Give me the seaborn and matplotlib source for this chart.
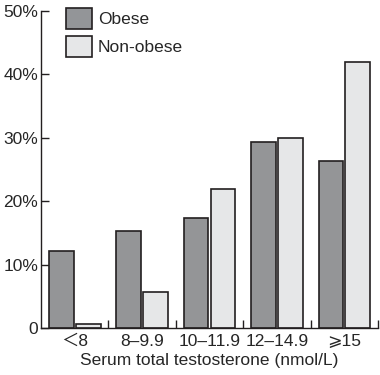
import matplotlib
matplotlib.use("Agg")
import matplotlib.pyplot as plt
import seaborn as sns
import pandas as pd
import numpy as np
from matplotlib.patches import Patch

categories = ["＜8", "8–9.9", "10–11.9", "12–14.9", "⩾15"]
obese = [12.1, 15.3, 17.3, 29.3, 26.3]
non_obese = [0.6, 5.7, 21.9, 29.9, 42.0]
groups = ["Obese", "Non-obese"]
yticks = [0, 10, 20, 30, 40, 50]
ytick_labels = ["0", "10%", "20%", "30%", "40%", "50%"]

sns.set_style("ticks")
plt.rcParams['font.family'] = ['Liberation Sans', 'DejaVu Sans', 'Noto Sans CJK SC']

df = pd.DataFrame({
    "cat": categories * 2,
    "val": obese + non_obese,
    "grp": [groups[0]] * 5 + [groups[1]] * 5,
})

colors = {"Obese": "#939598", "Non-obese": "#e6e7e8"}
edge = "#231f20"
fs = 12.5

fig = plt.figure(figsize=(3.8, 3.75), dpi=100)
ax = fig.add_axes([0.108, 0.125, 0.887, 0.846])
sns.barplot(data=df, x="cat", y="val", hue="grp", palette=colors, order=categories,
            hue_order=groups, width=0.8, gap=0.08, edgecolor=edge, linewidth=1.2,
            ax=ax, legend=False)

ax.set_xlim(-0.5, 4.5)
ax.set_ylim(0, 50)
ax.set_yticks(yticks)
ax.set_yticklabels(ytick_labels, fontsize=fs)
ax.set_xticks(np.arange(0.5, 5.0, 1.0))
ax.set_xticklabels([])
ax.set_xticks(np.arange(5), minor=True)
ax.set_xticklabels(categories, minor=True, fontsize=fs)
ax.tick_params(axis="x", which="major", direction="in", length=6, width=1, color=edge)
ax.tick_params(axis="x", which="minor", length=0, pad=4)
ax.tick_params(axis="y", direction="in", length=6, width=1, color=edge, pad=2)
for s in ["top", "right"]:
    ax.spines[s].set_visible(False)
for s in ["left", "bottom"]:
    ax.spines[s].set_color(edge)
    ax.spines[s].set_linewidth(1)
ax.set_xlabel("Serum total testosterone (nmol/L)", fontsize=fs, labelpad=3)
ax.set_ylabel("")

handles = [Patch(facecolor=colors[g], edgecolor=edge, linewidth=1.2) for g in groups]
ax.legend(handles, groups, loc="upper left", bbox_to_anchor=(0.052, 1.032), frameon=False,
          fontsize=fs, handlelength=1.5, handleheight=1.5, labelspacing=0.4,
          handletextpad=0.35, borderaxespad=0)

fig.savefig("out.png", dpi=100)
